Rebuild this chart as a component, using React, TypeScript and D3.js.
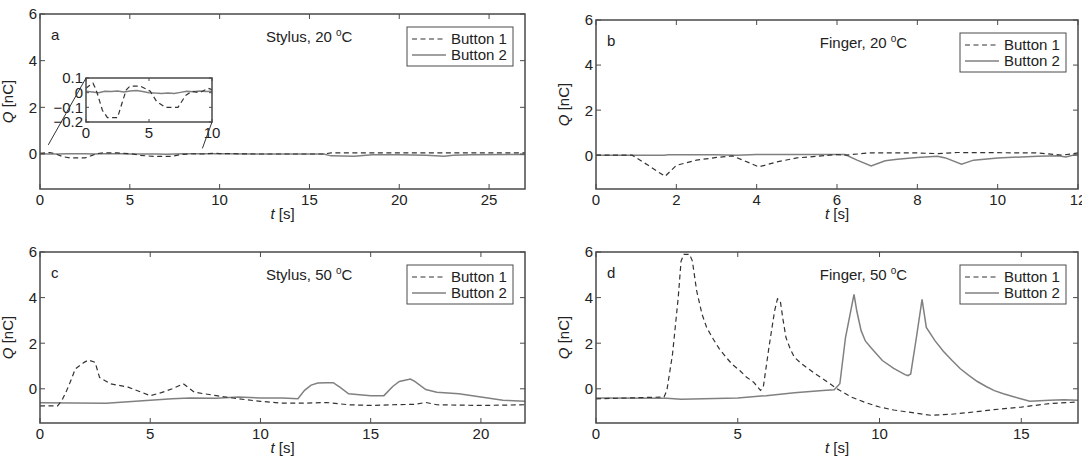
import React from "react";
import * as d3 from "d3";

type Pt = [number, number];

const FONT = "'Liberation Sans', Arial, Helvetica, sans-serif";
const AXIS_COLOR = "#4a4a4a";
const TEXT_COLOR = "#222";
const B1_COLOR = "#333";
const B2_COLOR = "#808080";

const Y_DOMAIN: [number, number] = [-1.5, 6];
const Y_TICKS = [0, 2, 4, 6];
const LEGEND_LABELS = ["Button 1", "Button 2"];

// Panel a: Stylus, 20 °C
const A_X_MAX = 27;
const A_X_TICKS = [0, 5, 10, 15, 20, 25];
const A_B1: Pt[] = [
  [0, 0.03], [0.3, 0.05], [0.55, 0.065], [0.75, 0.03], [0.95, -0.02], [1.3, -0.12], [1.7, -0.17],
  [2.5, -0.17], [2.9, -0.06], [3.2, 0.02], [3.5, 0.045], [4.3, 0.045], [5.1, 0.01], [5.6, -0.06],
  [6.3, -0.1], [7.3, -0.1], [7.9, -0.02], [8.4, 0.01], [9.0, 0.0], [9.7, 0.03], [10, 0.02],
  [12, 0.0], [14, 0.0], [15.8, 0.0], [16.2, 0.05], [20, 0.05], [24, 0.05], [27, 0.05],
];
const A_B2: Pt[] = [
  [0, 0.01], [0.5, 0.005], [1, 0.0], [1.5, 0.01], [2, 0.008], [2.5, 0.012], [3, 0.005], [3.5, 0.012],
  [4, 0.015], [4.5, 0.008], [5, 0.0], [5.5, -0.003], [6, -0.005], [6.5, -0.002], [7, -0.006],
  [7.5, 0.002], [8, 0.01], [8.5, 0.006], [9, 0.012], [9.5, 0.008], [10, 0.01], [12, 0.0], [14, 0.0],
  [15.8, 0.0], [16.2, -0.08], [17.5, -0.1], [18, -0.06], [18.5, -0.03], [20, -0.03], [21.5, -0.05],
  [22.5, -0.1], [23, -0.05], [24, -0.03], [27, -0.02],
];
// inset of panel a
const INSET_X_MAX = 10;
const INSET_X_TICKS = [0, 5, 10];
const INSET_Y_DOMAIN: [number, number] = [-0.2, 0.1];
const INSET_Y_TICKS = [-0.2, -0.1, 0, 0.1];
const INSET_LINK_FROM: Pt[] = [[0.46, 0.39], [9.04, 0.24]];

// Panel b: Finger, 20 °C
const B_X_MAX = 12;
const B_X_TICKS = [0, 2, 4, 6, 8, 10, 12];
const B_B1: Pt[] = [
  [0, 0], [0.9, 0], [1.3, -0.45], [1.72, -0.94], [2.0, -0.45], [2.5, -0.22], [3.0, -0.1],
  [3.4, -0.03], [3.7, -0.25], [4.05, -0.52], [4.5, -0.3], [5.0, -0.12], [5.5, -0.05], [6.0, 0.03],
  [6.2, 0.0], [6.8, 0.1], [8.0, 0.1], [8.5, 0.07], [9.0, 0.12], [11.0, 0.1], [11.6, 0.0], [12, 0.1],
];
const B_B2: Pt[] = [
  [0, 0], [1.7, 0], [1.8, 0.02], [3, 0.02], [3.5, 0.0], [4, 0.03], [6.2, 0.03], [6.5, -0.22],
  [6.85, -0.48], [7.2, -0.25], [7.5, -0.18], [8, -0.1], [8.5, -0.05], [8.7, -0.12], [9.1, -0.4],
  [9.4, -0.22], [10, -0.12], [11, -0.05], [11.5, -0.02], [11.7, -0.08], [12, 0.05],
];

// Panel c: Stylus, 50 °C
const C_X_MAX = 22;
const C_X_TICKS = [0, 5, 10, 15, 20];
const C_B1: Pt[] = [
  [0, -0.75], [0.8, -0.75], [1.0, -0.5], [1.2, -0.1], [1.4, 0.36], [1.6, 0.87], [2.0, 1.16],
  [2.2, 1.26], [2.5, 1.16], [2.7, 0.5], [3.2, 0.22], [4, 0.07], [5, -0.3], [5.5, -0.17], [6, 0.0],
  [6.5, 0.22], [6.8, 0.0], [7, -0.15], [8, -0.3], [9, -0.44], [10, -0.55], [11, -0.63], [12, -0.63],
  [13, -0.6], [14, -0.7], [15, -0.73], [16, -0.7], [17, -0.68], [17.5, -0.6], [18, -0.7],
  [20, -0.73], [22, -0.7],
];
const C_B2: Pt[] = [
  [0, -0.61], [3, -0.63], [5, -0.5], [6, -0.44], [6.8, -0.4], [8, -0.41], [9, -0.36], [10, -0.4],
  [11, -0.4], [11.7, -0.44], [12, -0.07], [12.3, 0.16], [12.6, 0.25], [13, 0.26], [13.3, 0.27],
  [13.6, 0.07], [14, -0.22], [15, -0.3], [15.6, -0.3], [16, 0.1], [16.3, 0.32], [16.8, 0.43],
  [17.0, 0.33], [17.5, -0.03], [18, -0.15], [19, -0.22], [20, -0.36], [21, -0.5], [22, -0.55],
];

// Panel d: Finger, 50 °C
const D_X_MAX = 17;
const D_X_TICKS = [0, 5, 10, 15];
const D_B1: Pt[] = [
  [0, -0.44], [2.4, -0.36], [2.5, -0.07], [2.7, 1.53], [2.9, 4.0], [3.0, 5.6], [3.1, 5.9],
  [3.3, 5.9], [3.4, 5.6], [3.55, 4.3], [3.74, 3.27], [3.9, 2.7], [4.1, 2.25], [4.35, 1.75],
  [4.59, 1.38], [4.8, 1.08], [5.07, 0.8], [5.3, 0.52], [5.56, 0.29], [5.8, -0.07], [5.9, 0.07],
  [6.1, 1.82], [6.3, 3.42], [6.4, 3.95], [6.5, 3.85], [6.6, 3.0], [6.7, 2.25], [6.85, 1.75],
  [7, 1.38], [7.25, 1.1], [7.5, 0.87], [7.75, 0.64], [8, 0.44], [8.25, 0.22], [8.5, 0.0],
  [8.75, -0.18], [9, -0.36], [9.5, -0.6], [10, -0.8], [10.5, -0.93], [11, -1.02], [11.8, -1.16],
  [12.5, -1.12], [13, -1.06], [14, -0.92], [15, -0.8], [16, -0.65], [17, -0.58],
];
const D_B2: Pt[] = [
  [0, -0.4], [2.5, -0.41], [3, -0.46], [5, -0.4], [6, -0.3], [7, -0.17], [8, -0.07], [8.4, -0.04],
  [8.6, 0.22], [8.8, 2.25], [9.1, 4.14], [9.2, 3.4], [9.35, 2.55], [9.5, 2.1], [9.7, 1.8],
  [10.1, 1.24], [10.5, 0.9], [10.9, 0.62], [11.0, 0.58], [11.1, 0.65], [11.3, 2.25], [11.5, 3.92],
  [11.65, 2.69], [11.96, 2.1], [12.25, 1.65], [12.56, 1.24], [12.85, 0.88], [13.16, 0.58],
  [13.45, 0.32], [13.76, 0.1], [14.05, -0.08], [14.37, -0.22], [14.7, -0.34], [14.98, -0.44],
  [15.3, -0.55], [16, -0.5], [16.5, -0.48], [17, -0.5],
];

type Box = { l: number; r: number; t: number; b: number };

const BOX_A: Box = { l: 40, r: 525, t: 14, b: 189 };
const BOX_B: Box = { l: 596, r: 1078, t: 20, b: 189 };
const BOX_C: Box = { l: 40, r: 525, t: 252, b: 423 };
const BOX_D: Box = { l: 596, r: 1078, t: 252, b: 423 };
const INSET_BOX: Box = { l: 86, r: 212, t: 78, b: 122 };

const FS = 15;
const TICK = 5;
const DASH = "5,3.5";

function fmt(v: number) {
  const s = String(v);
  return s.replace("-", "\u2212");
}

function Frame({ box, x, y, xTicks, yTicks, tick }: any) {
  return (
    <g>
      {xTicks.map((v: number) => (
        <g key={"x" + v}>
          <line x1={x(v)} x2={x(v)} y1={box.b} y2={box.b - tick} stroke={AXIS_COLOR} strokeWidth={1} />
          <line x1={x(v)} x2={x(v)} y1={box.t} y2={box.t + tick} stroke={AXIS_COLOR} strokeWidth={1} />
          <text x={x(v)} y={box.b + 16} textAnchor="middle" fontSize={FS} fill={TEXT_COLOR}>
            {fmt(v)}
          </text>
        </g>
      ))}
      {yTicks.map((v: number) => (
        <g key={"y" + v}>
          <line x1={box.l} x2={box.l + tick} y1={y(v)} y2={y(v)} stroke={AXIS_COLOR} strokeWidth={1} />
          <line x1={box.r} x2={box.r - tick} y1={y(v)} y2={y(v)} stroke={AXIS_COLOR} strokeWidth={1} />
          <text x={box.l - 3} y={y(v)} dy="0.36em" textAnchor="end" fontSize={FS} fill={TEXT_COLOR}>
            {fmt(v)}
          </text>
        </g>
      ))}
    </g>
  );
}

function Panel({ box, xMax, xTicks, b1, b2, letter, who, temp, id, children }: any) {
  const x = d3.scaleLinear().domain([0, xMax]).range([box.l, box.r]);
  const y = d3.scaleLinear().domain(Y_DOMAIN).range([box.b, box.t]);
  const line = d3.line<Pt>().x((d) => x(d[0])).y((d) => y(d[1]));
  const clipId = "clip-" + id;
  const lw = 106;
  const lh = 39;
  const lx = box.r - 12 - lw;
  const ly = box.t + 13;
  const cx = box.l + 0.555 * (box.r - box.l);
  return (
    <g>
      <defs>
        <clipPath id={clipId}>
          <rect x={box.l} y={box.t} width={box.r - box.l} height={box.b - box.t} />
        </clipPath>
      </defs>
      <g clipPath={`url(#${clipId})`}>
        <path d={line(b2) || ""} fill="none" stroke={B2_COLOR} strokeWidth={1.5} />
        <path d={line(b1) || ""} fill="none" stroke={B1_COLOR} strokeWidth={1.2} strokeDasharray={DASH} />
      </g>
      <rect x={box.l} y={box.t} width={box.r - box.l} height={box.b - box.t} fill="none" stroke={AXIS_COLOR} strokeWidth={1.5} />
      <Frame box={box} x={x} y={y} xTicks={xTicks} yTicks={Y_TICKS} tick={TICK} />
      <text x={(box.l + box.r) / 2} y={box.b + 30} textAnchor="middle" fontSize={FS} fill={TEXT_COLOR}>
        <tspan fontStyle="italic">t</tspan> [s]
      </text>
      <text
        transform={`translate(${box.l - 27},${(box.t + box.b) / 2}) rotate(-90)`}
        textAnchor="middle"
        fontSize={FS}
        fill={TEXT_COLOR}
      >
        <tspan fontStyle="italic">Q</tspan> [nC]
      </text>
      <text x={box.l + 11} y={box.t + 26} fontSize={FS} fill={TEXT_COLOR}>{letter}</text>
      <text x={cx} y={box.t + 28} textAnchor="middle" fontSize={FS} fill={TEXT_COLOR}>
        {who}, {temp} <tspan fontSize={10} dy={-6}>o</tspan>
        <tspan dy={6}>C</tspan>
      </text>
      <g>
        <rect x={lx} y={ly} width={lw} height={lh} fill="#fff" stroke={AXIS_COLOR} strokeWidth={1} />
        {LEGEND_LABELS.map((lab, i) => {
          const yy = ly + 12 + i * 16;
          return (
            <g key={lab}>
              <line
                x1={lx + 5}
                x2={lx + 39}
                y1={yy}
                y2={yy}
                stroke={i === 0 ? B1_COLOR : B2_COLOR}
                strokeWidth={i === 0 ? 1.2 : 1.5}
                strokeDasharray={i === 0 ? DASH : undefined}
              />
              <text x={lx + 44} y={yy} dy="0.36em" fontSize={FS} fill={TEXT_COLOR}>{lab}</text>
            </g>
          );
        })}
      </g>
      {children ? children(x, y) : null}
    </g>
  );
}

function Inset({ mainX, mainY }: any) {
  const box = INSET_BOX;
  const x = d3.scaleLinear().domain([0, INSET_X_MAX]).range([box.l, box.r]);
  const y = d3.scaleLinear().domain(INSET_Y_DOMAIN).range([box.b, box.t]);
  const line = d3.line<Pt>().x((d) => x(d[0])).y((d) => y(d[1]));
  const b1 = A_B1.filter((d) => d[0] <= INSET_X_MAX);
  const b2 = A_B2.filter((d) => d[0] <= INSET_X_MAX);
  const corners: Pt[] = [[box.l, box.t], [box.r, box.b]];
  return (
    <g>
      <defs>
        <clipPath id="clip-inset">
          <rect x={box.l} y={box.t} width={box.r - box.l} height={box.b - box.t} />
        </clipPath>
      </defs>
      <rect x={box.l} y={box.t} width={box.r - box.l} height={box.b - box.t} fill="#fff" />
      <g clipPath="url(#clip-inset)">
        <path d={line(b2) || ""} fill="none" stroke={B2_COLOR} strokeWidth={1.5} />
        <path d={line(b1) || ""} fill="none" stroke={B1_COLOR} strokeWidth={1.2} strokeDasharray={DASH} />
      </g>
      <rect x={box.l} y={box.t} width={box.r - box.l} height={box.b - box.t} fill="none" stroke={AXIS_COLOR} strokeWidth={1.5} />
      <Frame box={box} x={x} y={y} xTicks={INSET_X_TICKS} yTicks={INSET_Y_TICKS} tick={3} />
      {INSET_LINK_FROM.map((p, i) => (
        <line
          key={i}
          x1={mainX(p[0])}
          y1={mainY(p[1])}
          x2={corners[i][0]}
          y2={corners[i][1]}
          stroke="#333"
          strokeWidth={1}
        />
      ))}
    </g>
  );
}

export default function App() {
  return (
    <svg
      width={1082}
      height={456}
      viewBox="0 0 1082 456"
      style={{ position: "absolute", left: 0, top: 0, background: "#fff", fontFamily: FONT }}
    >
      <rect x={0} y={0} width={1082} height={456} fill="#fff" />
      <Panel box={BOX_A} xMax={A_X_MAX} xTicks={A_X_TICKS} b1={A_B1} b2={A_B2} letter="a" who="Stylus" temp="20" id="a">
        {(x: any, y: any) => <Inset mainX={x} mainY={y} />}
      </Panel>
      <Panel box={BOX_B} xMax={B_X_MAX} xTicks={B_X_TICKS} b1={B_B1} b2={B_B2} letter="b" who="Finger" temp="20" id="b" />
      <Panel box={BOX_C} xMax={C_X_MAX} xTicks={C_X_TICKS} b1={C_B1} b2={C_B2} letter="c" who="Stylus" temp="50" id="c" />
      <Panel box={BOX_D} xMax={D_X_MAX} xTicks={D_X_TICKS} b1={D_B1} b2={D_B2} letter="d" who="Finger" temp="50" id="d" />
    </svg>
  );
}
